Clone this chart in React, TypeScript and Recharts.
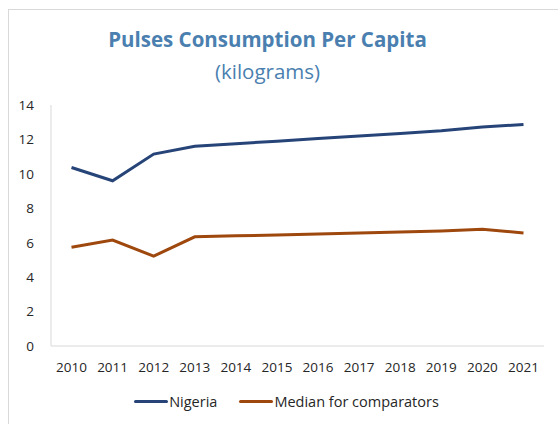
import React from 'react';
import { LineChart, Line, XAxis, YAxis, Legend } from 'recharts';

const years = ['2010', '2011', '2012', '2013', '2014', '2015', '2016', '2017', '2018', '2019', '2020', '2021'];
const nigeria = [10.37, 9.6, 11.15, 11.6, 11.75, 11.9, 12.05, 12.2, 12.35, 12.5, 12.72, 12.87];
const median = [5.74, 6.15, 5.22, 6.34, 6.4, 6.45, 6.5, 6.56, 6.62, 6.68, 6.78, 6.57];
const yTicks = [0, 2, 4, 6, 8, 10, 12, 14];

const data = years.map((y, i) => ({ year: y, nigeria: nigeria[i], median: median[i] }));

const FONT = '"Open Sans", "Noto Sans", sans-serif';
const BLUE = '#264478';
const ORANGE = '#9e480e';
const TITLE = '#4a7fb0';

const LegendContent = () => (
  <div style={{ display: 'flex', justifyContent: 'center', alignItems: 'center', fontFamily: FONT, fontSize: 14.5, color: '#262626', paddingLeft: 15 }}>
    <div style={{ display: 'flex', alignItems: 'center' }}>
      <div style={{ width: 34, height: 3, background: BLUE, borderRadius: 1.5 }} />
      <span style={{ marginLeft: 1 }}>Nigeria</span>
    </div>
    <div style={{ display: 'flex', alignItems: 'center', marginLeft: 22 }}>
      <div style={{ width: 34, height: 3, background: ORANGE, borderRadius: 1.5 }} />
      <span style={{ marginLeft: 1 }}>Median for comparators</span>
    </div>
  </div>
);

export default function App() {
  return (
    <div style={{ position: 'absolute', left: 0, top: 0, width: 558, height: 424, background: '#fff', overflow: 'hidden' }}>
      <div style={{ position: 'absolute', left: 8, top: 9, width: 600, height: 500, borderLeft: '1px solid #d9d9d9', borderTop: '1px solid #d9d9d9' }} />
      <div style={{ position: 'absolute', left: 0, top: 25, width: 535, textAlign: 'center', fontFamily: FONT, fontWeight: 700, fontSize: 20.5, color: TITLE, lineHeight: '28px' }}>
        Pulses Consumption Per Capita
      </div>
      <div style={{ position: 'absolute', left: 0, top: 57, width: 535, textAlign: 'center', fontFamily: FONT, fontWeight: 400, fontSize: 20.5, color: TITLE, lineHeight: '28px' }}>
        (kilograms)
      </div>
      <div style={{ position: 'absolute', left: 0, top: 0 }}>
        <LineChart width={558} height={424} data={data} margin={{ top: 105, right: 14, bottom: 48, left: 0 }}>
          <XAxis
            dataKey="year"
            padding={{ left: 20.5, right: 20.5 }}
            axisLine={{ stroke: '#d9d9d9', strokeWidth: 1 }}
            tickLine={false}
            tickMargin={10}
            tick={{ fill: '#262626', fontSize: 13.5, fontFamily: FONT }}
            interval={0}
            height={30}
          />
          <YAxis
            domain={[0, 14]}
            ticks={yTicks}
            width={51}
            axisLine={{ stroke: '#d9d9d9', strokeWidth: 1 }}
            tickLine={false}
            tickMargin={11}
            tick={{ fill: '#262626', fontSize: 13.5, fontFamily: FONT }}
            interval={0}
          />
          <Legend verticalAlign="middle" align="center" content={<LegendContent />} wrapperStyle={{ top: 392, left: 0, width: 558, height: 22 }} />
          <Line type="linear" dataKey="nigeria" name="Nigeria" stroke={BLUE} strokeWidth={3} dot={false} activeDot={false} isAnimationActive={false} />
          <Line type="linear" dataKey="median" name="Median for comparators" stroke={ORANGE} strokeWidth={3} dot={false} activeDot={false} isAnimationActive={false} />
        </LineChart>
      </div>
    </div>
  );
}
